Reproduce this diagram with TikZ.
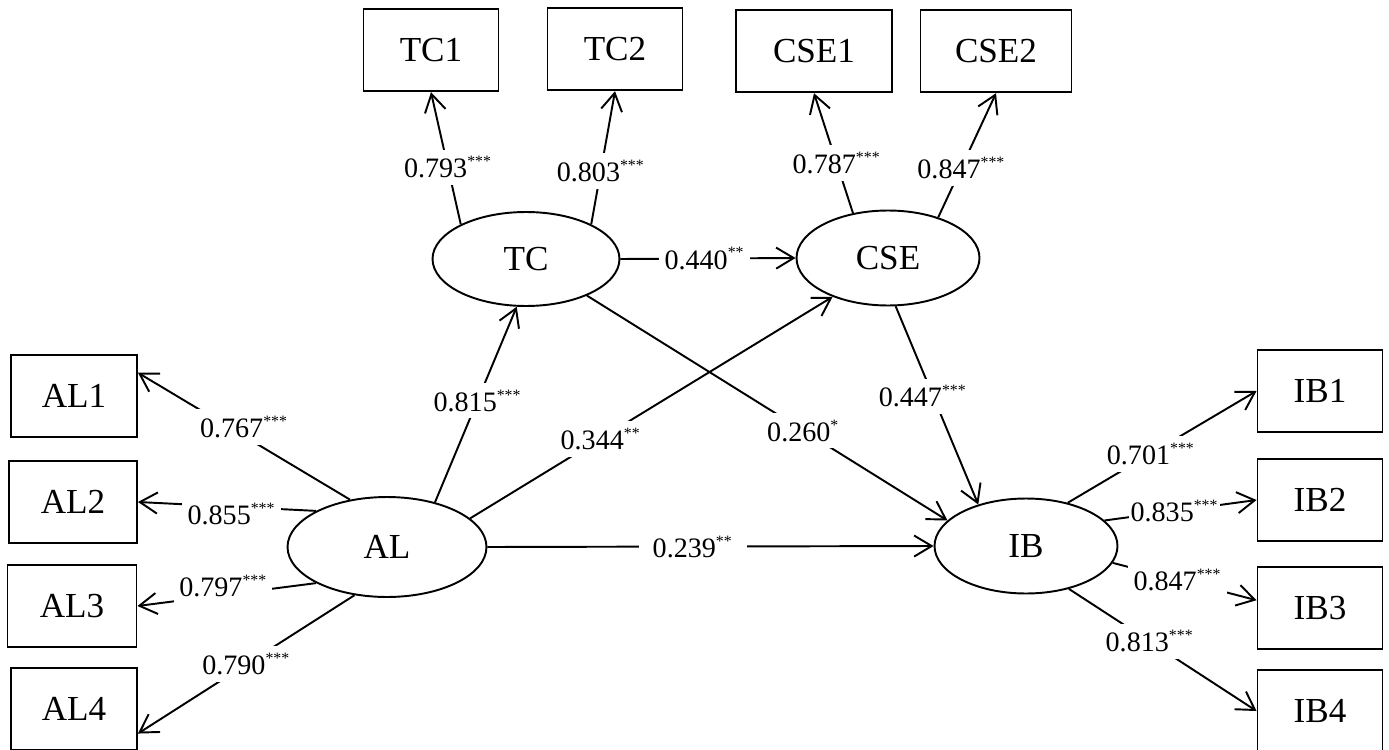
\documentclass[tikz,border=0pt]{standalone}
\usepackage{fontspec}
\setmainfont{Liberation Serif}
\usetikzlibrary{arrows.meta,shapes.geometric}
\newcommand{\sig}[1]{\textsuperscript{\fontsize{9}{9}\selectfont #1}}
\begin{document}
\begin{tikzpicture}[x=0.02cm,y=-0.02cm,
  obs/.style={draw, line width=1.1pt, minimum height=1.65cm, inner sep=0pt,
              font=\fontsize{20}{22}\selectfont},
  lat/.style={draw, ellipse, line width=1.1pt, inner sep=0pt,
              font=\fontsize{20}{22}\selectfont},
  link/.style={line width=1.1pt, -{Straight Barb[length=10pt,width=12pt]}},
  lbl/.style={fill=white, inner xsep=3pt, inner ysep=4pt, font=\fontsize{16}{18}\selectfont}]

\useasboundingbox[fill=white] (0,0) rectangle (1389,750);

% indicator boxes
\node[obs, minimum width=2.70cm] (TC1)  at (431,50)  {TC1};
\node[obs, minimum width=2.70cm] (TC2)  at (615,49)  {TC2};
\node[obs, minimum width=3.12cm] (CSE1) at (814,51)  {CSE1};
\node[obs, minimum width=3.02cm] (CSE2) at (996,51)  {CSE2};
\node[obs, minimum width=2.52cm] (AL1)  at (74,396)  {AL1};
\node[obs, minimum width=2.56cm] (AL2)  at (73,502)  {AL2};
\node[obs, minimum width=2.58cm] (AL3)  at (72,606)  {AL3};
\node[obs, minimum width=2.52cm] (AL4)  at (74,709)  {AL4};
\node[obs, minimum width=2.50cm] (IB1)  at (1320,391) {IB1};
\node[obs, minimum width=2.50cm] (IB2)  at (1320,500) {IB2};
\node[obs, minimum width=2.50cm] (IB3)  at (1320,608) {IB3};
\node[obs, minimum width=2.50cm] (IB4)  at (1320,711) {IB4};

% latent variables
\node[lat, minimum width=3.74cm, minimum height=1.88cm] (TC)  at (526,259) {TC};
\node[lat, minimum width=3.66cm, minimum height=1.90cm] (CSE) at (888,258) {CSE};
\node[lat, minimum width=3.98cm, minimum height=2.00cm] (AL)  at (387,547) {AL};
\node[lat, minimum width=3.66cm, minimum height=1.90cm] (IB)  at (1026,546) {IB};

% loadings
\draw[link] (TC.152) -- node[lbl,pos=0.43]{0.793\sig{***}} (TC1.south);
\draw[link] (TC.28)  -- node[lbl,pos=0.40]{0.803\sig{***}} (TC2.south);
\draw[link] (CSE.128) -- node[lbl,pos=0.42]{0.787\sig{***}} (CSE1.south);
\draw[link] (CSE.39)  -- node[lbl,pos=0.40]{0.847\sig{***}} (CSE2.south);

\draw[link] (AL.128) -- node[lbl,pos=0.50,yshift=5pt]{0.767\sig{***}} (AL1.20);
\draw[link] (AL.153) -- node[lbl,pos=0.475,yshift=-4pt]{0.855\sig{***}} (AL2.east);
\draw[link] (AL.207) -- node[lbl,pos=0.52,yshift=5pt]{0.797\sig{***}} (AL3.east);
\draw[link] (AL.236) -- node[lbl,pos=0.50]{0.790\sig{***}} (AL4.-21);

\draw[link] (IB.46)  -- node[lbl,pos=0.44]{0.701\sig{***}} (IB1.west);
\draw[link] (IB.18)  -- node[lbl,pos=0.46,inner xsep=1pt]{0.835\sig{***}} (IB2.west);
\draw[link] (IB.-11) -- node[lbl,pos=0.45]{0.847\sig{***}} (IB3.173);
\draw[link] (IB.-45) -- node[lbl,pos=0.43]{0.813\sig{***}} (IB4.west);

% structural paths
\draw[link] (TC.east) -- node[lbl,pos=0.48]{0.440\sig{**}} (CSE.west);
\draw[link] (AL.43) -- node[lbl,pos=0.52]{0.815\sig{***}} (TC.259);
\draw[link] (AL.19) -- node[lbl,pos=0.36]{0.344\sig{**}} (CSE.215);
\draw[link] (TC.-31) -- node[lbl,pos=0.60]{0.260\sig{*}} (IB.162);
\draw[link] (CSE.-81) -- node[lbl,pos=0.455,xshift=-6pt]{0.447\sig{***}} (IB.139);
\draw[link] (AL.east) -- node[lbl,pos=0.46,inner xsep=8pt]{0.239\sig{**}} (IB.west);
\end{tikzpicture}
\end{document}
